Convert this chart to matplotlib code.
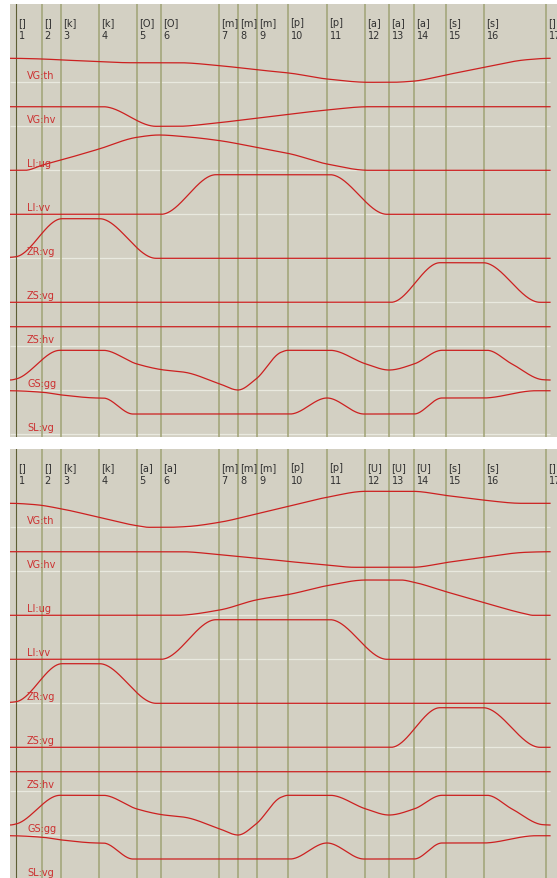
"""Two stacked articulatory-track panels (VG/LI/ZR/ZS/GS/SL) over phone boundaries."""
import numpy as np
import matplotlib
matplotlib.use("Agg")
import matplotlib.pyplot as plt
from matplotlib.transforms import offset_copy

# phone boundaries (time units), frame numbers and phone labels per panel
bound_t = [0, 26, 45, 83, 121, 145, 203, 222, 241, 272, 311, 349, 373, 398, 430, 468, 530]
frames = [str(i) for i in range(1, 18)]
phones_top = ["", "", "k", "k", "O", "O", "m", "m", "m", "p", "p", "a", "a", "a", "s", "s", ""]
phones_bot = ["", "", "k", "k", "a", "a", "m", "m", "m", "p", "p", "U", "U", "U", "s", "s", ""]

track_names = ["VG:th", "VG:hv", "LI:ug", "LI:vv", "ZR:vg", "ZS:vg", "ZS:hv", "GS:gg", "SL:vg"]

# track values: (time, value as fraction of track height)
vg_th_top = [(-6, .545), (26, .53), (46, .507), (79, .477), (114, .445), (162, .445), (204, .377),
             (240, .286), (275, .205), (311, .075), (353, 0), (375, 0), (396, .023), (432, .177),
             (468, .341), (511, .514), (534, .545)]
vg_hv_top = [(-6, .445), (87, .445), (140, 0), (162, 0), (197, .068), (240, .182), (275, .28),
             (311, .37), (353, .445), (534, .445)]
li_ug_top = [(-6, 0), (9, 0), (26.6, .12), (46, .24), (83, .484), (121, .75), (143, .802),
             (169, .764), (204, .673), (240, .523), (275, .37), (311, .143), (353, 0), (534, 0)]

vg_th_bot = [(-6, .545), (19.5, .514), (46, .416), (83, .227), (121, .036), (133, 0), (151, 0),
             (169, .014), (203.5, .114), (240, .302), (275, .491), (311, .682), (350, .818),
             (396, .818), (432, .718), (467, .62), (506, .545), (534, .545)]
vg_hv_bot = [(-6, .445), (165, .445), (204, .377), (240, .302), (275, .218), (311, .143),
             (339, .091), (396, .091), (432, .205), (467, .318), (510, .432), (534, .445)]
li_ug_bot = [(-6, 0), (160, 0), (203.5, .12), (240, .348), (275, .484), (311, .673), (350, .802),
             (385, .802), (398, .75), (432, .523), (467, .295), (510, .03), (517, 0), (534, 0)]

li_vv = [(-6, 0), (145, 0), (200, .9), (314, .9), (371, 0), (534, 0)]
zr_vg = [(-6, .023), (0, .036), (46, .9), (83.5, .9), (140, 0), (534, 0)]
zs_vg = [(-6, 0), (375, 0), (424, .9), (467, .9), (524, 0), (534, 0)]
zs_hv = [(-6, .445), (534, .445)]
gs_gg = [(-6, .234), (0, .257), (44, .909), (87, .909), (121, .598), (146, .468), (169, .409),
         (204, .143), (222, .007), (240, .257), (265, .864), (272, .909), (314, .909), (350, .598),
         (373, .461), (398, .598), (426, .909), (471, .909), (496, .598), (527, .241), (534, .234)]
sl_vg = [(-6, .99), (26.6, .955), (46, .893), (83, .825), (87, .825), (117, .461), (274, .461),
         (311, .825), (348, .461), (398, .461), (426, .825), (467, .825), (520, .99), (534, .99)]

tracks_top = [vg_th_top, vg_hv_top, li_ug_top, li_vv, zr_vg, zs_vg, zs_hv, gs_gg, sl_vg]
tracks_bot = [vg_th_bot, vg_hv_bot, li_ug_bot, li_vv, zr_vg, zs_vg, zs_hv, gs_gg, sl_vg]

BG = "#d3d0c3"
GRID = "#a4a67b"
RED = "#cc2020"
TRACK_PX = 44.0


def pchip(xk, yk, xs):
    # monotone cubic through the knots, flat at both ends
    xk = np.asarray(xk, float)
    yk = np.asarray(yk, float)
    h = np.diff(xk)
    d = np.diff(yk) / h
    m = np.zeros_like(yk)
    for i in range(1, len(xk) - 1):
        if d[i - 1] * d[i] > 0:
            w1 = 2 * h[i] + h[i - 1]
            w2 = h[i] + 2 * h[i - 1]
            m[i] = (w1 + w2) / (w1 / d[i - 1] + w2 / d[i])
    idx = np.clip(np.searchsorted(xk, xs) - 1, 0, len(xk) - 2)
    t = (xs - xk[idx]) / h[idx]
    h00 = 2 * t**3 - 3 * t**2 + 1
    h10 = t**3 - 2 * t**2 + t
    h01 = -2 * t**3 + 3 * t**2
    h11 = t**3 - t**2
    return (h00 * yk[idx] + h10 * h[idx] * m[idx]
            + h01 * yk[idx + 1] + h11 * h[idx] * m[idx + 1])


def draw_panel(ax, tracks, phones, height_px):
    ax.set_facecolor(BG)
    ax.set_xlim(-6, 541)
    ax.set_ylim(-height_px / TRACK_PX, 0)
    ax.set_xticks([])
    ax.set_yticks([])
    for s in ax.spines.values():
        s.set_visible(False)

    base0 = -78.3 / TRACK_PX
    for k in range(len(tracks)):
        base = base0 - k
        ax.hlines(base, -6, 534, color="#e9e9df", lw=0.9, zorder=1)

    for i, bt in enumerate(bound_t):
        ax.axvline(bt, color="#5e5e34" if i == 0 else GRID, lw=0.8 if i == 0 else 1.2, zorder=2)

    lbl_tf = offset_copy(ax.transData, fig=ax.figure, x=2.5, y=0, units="dots")
    for bt, ph, fr in zip(bound_t, phones, frames):
        ax.text(bt, -18 / TRACK_PX, f"[{ph}]", transform=lbl_tf, fontsize=7, color="#303030",
                ha="left", va="center", zorder=4)
        ax.text(bt, -31 / TRACK_PX, fr, transform=lbl_tf, fontsize=7, color="#303030",
                ha="left", va="center", zorder=4)

    xs = np.linspace(-6, 534, 1200)
    for k, (name, pts) in enumerate(zip(track_names, tracks)):
        base = base0 - k
        tk = [p[0] for p in pts]
        vk = [p[1] for p in pts]
        ax.plot(xs, base + pchip(tk, vk, xs), color=RED, lw=0.9, zorder=3)
        ax.text(11, base + 7.5 / TRACK_PX, name, fontsize=7, color="#cc3030",
                ha="left", va="center", zorder=4)


W, H = 557, 879
fig = plt.figure(figsize=(W / 100, H / 100), dpi=100)
fig.patch.set_facecolor("white")

ax_top = fig.add_axes([10 / W, (H - 438) / H, 547 / W, 433 / H])
ax_bot = fig.add_axes([10 / W, 0, 547 / W, 429 / H])

draw_panel(ax_top, tracks_top, phones_top, 433)
draw_panel(ax_bot, tracks_bot, phones_bot, 429)

fig.savefig("out.png", dpi=100)
